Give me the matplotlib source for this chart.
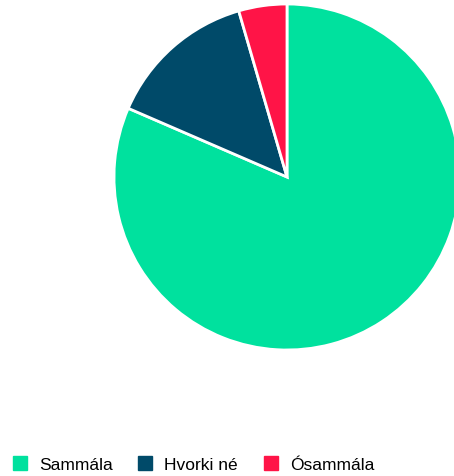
import matplotlib.pyplot as plt
from matplotlib.lines import Line2D

plt.rcParams['font.family'] = ['Liberation Sans', 'DejaVu Sans']

# Gögn
labels = ['Sammála', 'Hvorki né', 'Ósammála']
values = [81.5, 14.0, 4.5]
colors = ['#00e19e', '#004a69', '#ff1447']

W, H = 454, 477
fig = plt.figure(figsize=(W / 100, H / 100), dpi=100)

# pie: center (287,178) px from top, radius 173
cx, cy, r = 287, 178, 173
ax = fig.add_axes([(cx - r) / W, (H - cy - r) / H, 2 * r / W, 2 * r / H])
ax.pie(values, colors=colors, startangle=90, counterclock=False,
       wedgeprops=dict(edgecolor='white', linewidth=2), radius=1)
ax.set_xlim(-1, 1)
ax.set_ylim(-1, 1)
ax.set_aspect('equal')

handles = [Line2D([], [], marker='s', linestyle='none', markersize=10.5,
                  markerfacecolor=c, markeredgecolor=c) for c in colors]
fig.legend(handles, labels, loc='center left', bbox_to_anchor=(0.006, (H - 465) / H),
           ncol=3, frameon=False, fontsize=12.5, handletextpad=0.5,
           columnspacing=1.27, borderaxespad=0, handlelength=1.2)

fig.savefig('out.png', dpi=100)
